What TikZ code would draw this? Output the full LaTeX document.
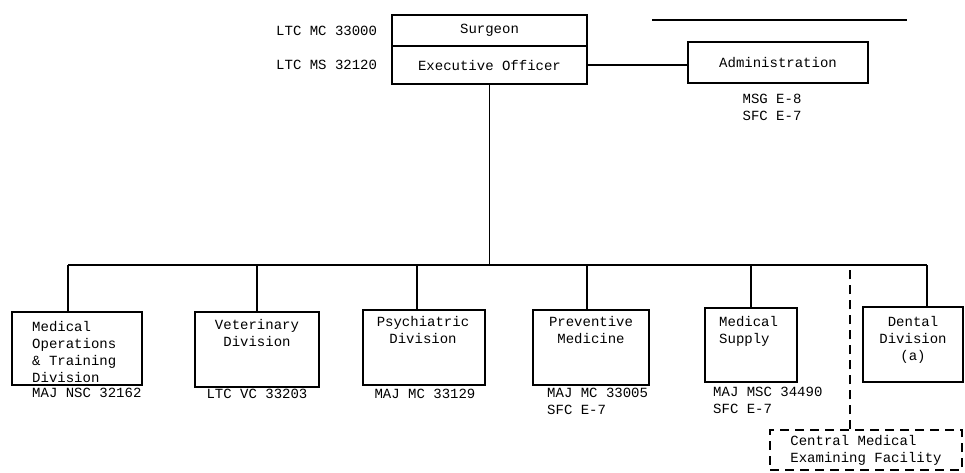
\documentclass[tikz,border=0pt]{standalone}
\usepackage{fontspec}
\setmonofont{Liberation Mono}
\usetikzlibrary{positioning}
\tikzset{
  unit/.style={draw, line width=1.5pt, inner sep=0pt},
  dashunit/.style={draw, dashed, dash pattern=on 9pt off 6pt, line width=1.3pt, inner sep=0pt},
  lbl/.style={font=\ttfamily\fontsize{14}{17}\selectfont, inner sep=0pt},
  link/.style={line width=1.5pt},
}

\begin{document}
\begin{tikzpicture}[x=1pt, y=-1pt]
  \useasboundingbox (0,0) rectangle (965,472);

  % command group
  \node[unit, lbl, minimum width=195pt, minimum height=31pt] (surgeon) at (489.5,30.5) {Surgeon};
  \node[unit, lbl, minimum width=195pt, minimum height=38pt] (exec) at (489.5,65) {Executive Officer};
  \node[lbl, left=14pt of surgeon] (surgeon-g) {LTC MC 33000};
  \node[lbl, left=14pt of exec] (exec-g) {LTC MS 32120};
  \node[unit, lbl, minimum width=180pt, minimum height=41pt] (admin) at (778,62.5) {Administration};
  \node[lbl, align=center, anchor=north] (admin-g) at (772,94) {MSG E-8\\SFC E-7};
  \draw[line width=1.2pt] (652,20) -- (907,20);

  % divisions
  \node[unit, minimum width=130pt, minimum height=73pt] (medops) at (77,348.5) {};
  \node[unit, minimum width=124pt, minimum height=75pt] (vet) at (257,349.5) {};
  \node[unit, minimum width=122pt, minimum height=75pt] (psych) at (424,347.5) {};
  \node[unit, minimum width=116pt, minimum height=75pt] (prev) at (591,347.5) {};
  \node[unit, minimum width=92pt, minimum height=74pt] (supply) at (751,345) {};
  \node[unit, minimum width=100pt, minimum height=75pt] (dental) at (913,344.5) {};
  \node[dashunit, lbl, align=left, minimum width=192pt, minimum height=40pt] (cmef) at (866,450) {Central Medical\\Examining Facility};

  % division titles
  \node[lbl, align=left, anchor=north west] (medops-t) at (32,321) {Medical\\Operations\\\& Training\\Division};
  \node[lbl, align=center, anchor=north] (vet-t) at (257,319) {Veterinary\\Division};
  \node[lbl, align=center, anchor=north] (psych-t) at (423,316) {Psychiatric\\Division};
  \node[lbl, align=center, anchor=north] (prev-t) at (591,316) {Preventive\\Medicine};
  \node[lbl, align=left, anchor=north west] (supply-t) at (719,316) {Medical\\Supply};
  \node[lbl, align=center, anchor=north] (dental-t) at (913,316) {Dental\\Division\\(a)};

  % grades
  \node[lbl, anchor=north west] (medops-g) at (32,388) {MAJ NSC 32162};
  \node[lbl, anchor=north] (vet-g) at (257,389) {LTC VC 33203};
  \node[lbl, anchor=north] (psych-g) at (425,389) {MAJ MC 33129};
  \node[lbl, align=left, anchor=north west] (prev-g) at (547,388) {MAJ MC 33005\\SFC E-7};
  \node[lbl, align=left, anchor=north west] (supply-g) at (713,387) {MAJ MSC 34490\\SFC E-7};

  % connectors
  \coordinate (bus-l) at (68,265);
  \coordinate (bus-r) at (927,265);
  \draw[link] (exec.east) -- (exec.east -| admin.west);
  \draw[link] (exec.south) -- (exec.south |- bus-l);
  \draw[link] (bus-l) -- (bus-r);
  \draw[link] ([xshift=-9pt]medops.north) -- (bus-l);
  \draw[link] (vet.north) -- (vet.north |- bus-l);
  \draw[link] ([xshift=-7pt]psych.north) -- ([xshift=-7pt]psych.north |- bus-l);
  \draw[link] ([xshift=-4pt]prev.north) -- ([xshift=-4pt]prev.north |- bus-l);
  \draw[link] (supply.north) -- (supply.north |- bus-l);
  \draw[link] ([xshift=14pt]dental.north) -- (bus-r);
  \draw[line width=1.3pt, dash pattern=on 9pt off 6pt] ([xshift=-16pt]cmef.north) -- ([xshift=-16pt]cmef.north |- bus-l);
\end{tikzpicture}
\end{document}
